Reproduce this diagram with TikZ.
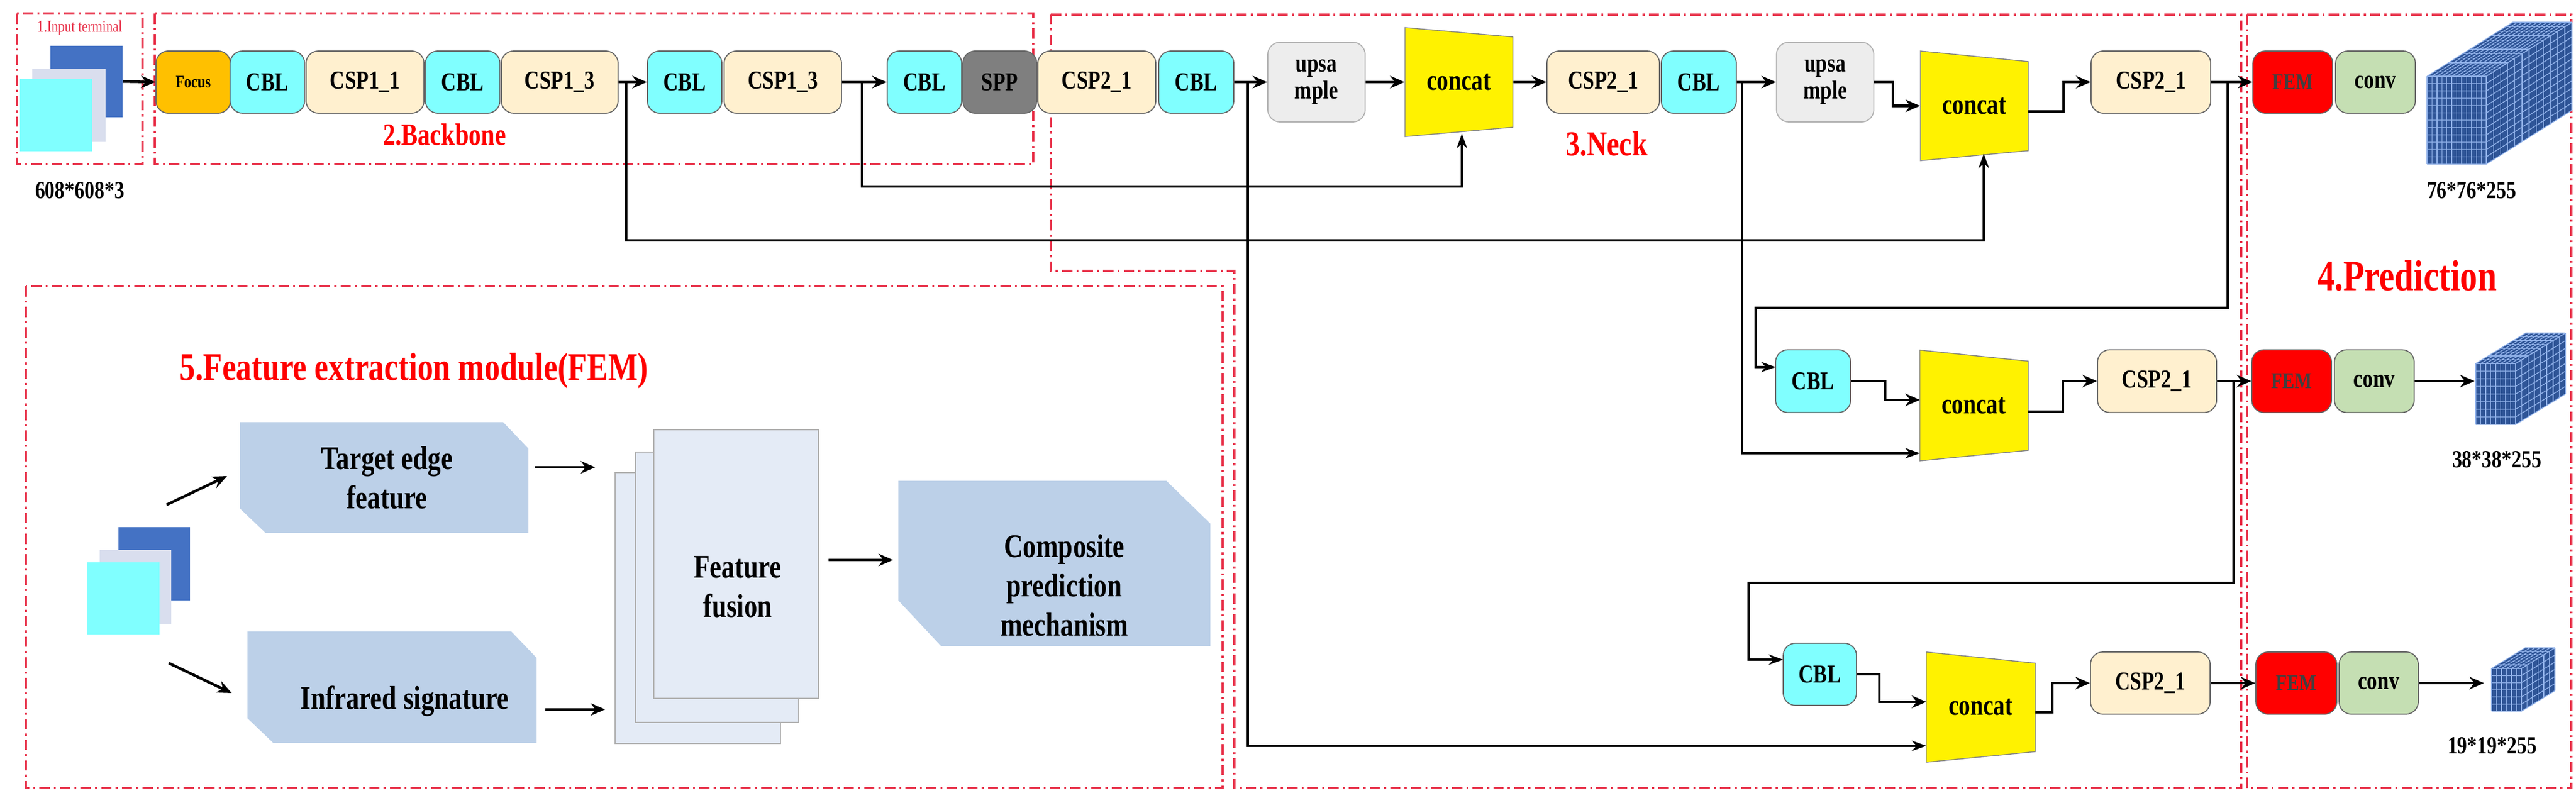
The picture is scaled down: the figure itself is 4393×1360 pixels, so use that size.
\documentclass[tikz,border=0pt]{standalone}
\usepackage{fontspec}
\setmainfont{Liberation Serif}[FakeStretch=0.8]
\usetikzlibrary{arrows.meta}
\definecolor{cy}{HTML}{80FFFF}
\definecolor{bg}{HTML}{FFF0CF}
\definecolor{org}{HTML}{FFC000}
\definecolor{sppg}{HTML}{7F7F7F}
\definecolor{upg}{HTML}{EDEDED}
\definecolor{cvg}{HTML}{C5DFB3}
\definecolor{stl}{HTML}{BCD0E8}
\definecolor{fus}{HTML}{E4EBF6}
\definecolor{dblue}{HTML}{4472C4}
\definecolor{lgray}{HTML}{D9DEEE}
\definecolor{dred}{HTML}{E8324A}
\definecolor{cubeb}{HTML}{2F5597}
\definecolor{cubel}{HTML}{8FB0E8}
\newcommand{\gridcube}[7]{% x0 y0 x1 y1 dx dy n
  \fill[cubeb] (#1,#2) -- ++(#5,#6) -- (#3+#5,#2+#6) -- (#3+#5,#4+#6) -- (#3,#4) -- (#1,#4) -- cycle;
  \foreach \i in {0,...,#7}{
    \draw[cubel,line width=0.4pt] ({#1+(#3-#1)*\i/#7},#2) -- ({#1+(#3-#1)*\i/#7},#4);
    \draw[cubel,line width=0.4pt] (#1,{#2+(#4-#2)*\i/#7}) -- (#3,{#2+(#4-#2)*\i/#7}) -- ++(#5,#6);
    \draw[cubel,line width=0.4pt] ({#1+(#3-#1)*\i/#7},#2) -- ++(#5,#6);
    \draw[cubel,line width=0.4pt] ({#3+#5*\i/#7},{#2+#6*\i/#7}) -- ++(0,#4-#2);
    \draw[cubel,line width=0.4pt] ({#1+#5*\i/#7},{#2+#6*\i/#7}) -- ++(#3-#1,0);
  }
}
\tikzset{
  blk/.style={draw=black!60,rounded corners=6pt,minimum height=1.06cm,inner sep=0pt,
     font=\fontsize{12.5}{13}\selectfont\bfseries,line width=0.5pt},
  cbl/.style={blk,fill=cy,minimum width=1.27cm},
  csp/.style={blk,fill=bg},
  up/.style={blk,fill=upg,draw=black!30,minimum height=1.36cm,minimum width=1.66cm,align=center},
  fem/.style={blk,fill=red,minimum width=1.36cm,font=\fontsize{11}{12}\selectfont\bfseries\color{black!75}},
  conv/.style={blk,fill=cvg,minimum width=1.36cm},
  cat/.style={inner sep=0pt,font=\fontsize{14}{15}\selectfont\bfseries},
  ar/.style={line width=1.3pt,-{Stealth[length=7pt,width=6pt]}},
  ln/.style={line width=1pt,-{Stealth[length=7pt,width=5pt]}},
  region/.style={dred,line width=0.9pt,dash pattern=on 5pt off 2pt on 1pt off 2pt},
  ttl/.style={text=red,font=\bfseries},
  dim/.style={font=\fontsize{12}{13}\selectfont\bfseries},
  fbox/.style={fill=stl,draw=none},
  ftxt/.style={align=center,font=\fontsize{16}{19}\selectfont\bfseries},
}
\begin{document}
\begin{tikzpicture}[x=0.01cm,y=-0.01cm]
\useasboundingbox (0,0) rectangle (4393,1360);
% regions
\draw[region] (29,23) rectangle (243,280);
\draw[region] (264,23) rectangle (1762,280);
\draw[region] (1792,25) -- (3822,25) -- (3822,1344) -- (2105,1344) -- (2105,462) -- (1792,462) -- cycle;
\draw[region] (3832,25) rectangle (4385,1344);
\draw[region] (44,488) rectangle (2085,1344);
\node[text=dred,font=\fontsize{8}{9}\selectfont] (t1) at (136,48) {1.Input terminal};
\node[ttl,font=\fontsize{15}{16}\selectfont\bfseries] (t2) at (758,230) {2.Backbone};
\node[ttl,font=\fontsize{17}{18}\selectfont\bfseries] (t3) at (2740,245) {3.Neck};
\node[ttl,font=\fontsize{21}{22}\selectfont\bfseries] (t4) at (4105,470) {4.Prediction};
\node[ttl,font=\fontsize{19}{20}\selectfont\bfseries] (t5) at (706,632) {5.Feature extraction module(FEM)};
% input images
\node[fill=dblue,minimum width=1.23cm,minimum height=1.22cm,inner sep=0] (img) at (147.5,139) {};
\node[fill=lgray,minimum width=1.25cm,minimum height=1.25cm,inner sep=0] (img2) at (117.5,179.5) {};
\node[fill=cy,minimum width=1.23cm,minimum height=1.23cm,inner sep=0] (img3) at (95.5,196.5) {};
\node[dim] (d0) at (136,325) {608*608*3};
% row 1
\node[blk,fill=org,minimum width=1.27cm,font=\fontsize{8.5}{9}\selectfont\bfseries] (focus) at (329.5,140) {Focus};
\node[cbl] (cbl1) at (456,140) {CBL};
\node[csp,minimum width=2.01cm] (csp11) at (622.5,140) {CSP1\_1};
\node[cbl] (cbl2) at (789,140) {CBL};
\node[csp,minimum width=1.99cm] (csp13a) at (954.5,140) {CSP1\_3};
\node[cbl] (cbl3) at (1167.5,140) {CBL};
\node[csp,minimum width=2cm] (csp13b) at (1335,140) {CSP1\_3};
\node[cbl] (cbl4) at (1576.5,140) {CBL};
\node[blk,fill=sppg,minimum width=1.26cm] (spp) at (1705,140) {SPP};
\node[csp,minimum width=2.01cm] (csp21a) at (1870.5,140) {CSP2\_1};
\node[cbl,minimum width=1.28cm] (cbl5) at (2040,140) {CBL};
\node[up] (up1) at (2245,140) {upsa\\mple};
\fill[yellow,draw=black!50,line width=0.4pt] (2396,47) -- (2580,63) -- (2580,217) -- (2396,233) -- cycle;
\node[cat,minimum width=1.84cm,minimum height=1.86cm] (cat1) at (2488,140) {concat};
\node[csp,minimum width=1.92cm] (csp21b) at (2734,140) {CSP2\_1};
\node[cbl,minimum width=1.28cm] (cbl6) at (2897,140) {CBL};
\node[up] (up2) at (3112.5,140) {upsa\\mple};
\fill[yellow,draw=black!50,line width=0.4pt] (3275,87) -- (3459,105) -- (3459,257) -- (3275,274) -- cycle;
\node[cat,minimum width=1.84cm,minimum height=1.87cm] (cat2) at (3367,180.5) {concat};
\node[csp,minimum width=2.04cm] (csp21c) at (3668,140) {CSP2\_1};
\node[fem] (fem1) at (3910,140) {FEM};
\node[conv] (conv1) at (4051,140) {conv};
\gridcube{4139}{130}{4240}{280}{146}{-92}{12}
\node[dim] (d1) at (4215,325) {76*76*255};
% row 2
\node[cbl,minimum width=1.28cm,minimum height=1.07cm] (cbl7) at (3092,650) {CBL};
\fill[yellow,draw=black!50,line width=0.4pt] (3274,597) -- (3459,616) -- (3459,768) -- (3274,786) -- cycle;
\node[cat,minimum width=1.85cm,minimum height=1.89cm] (cat3) at (3366,691.5) {concat};
\node[csp,minimum width=2.03cm,minimum height=1.07cm] (csp21d) at (3678.5,650) {CSP2\_1};
\node[fem,minimum height=1.07cm] (fem2) at (3908,650) {FEM};
\node[conv,minimum height=1.07cm] (conv2) at (4049,650) {conv};
\gridcube{4222}{620}{4290}{724}{85}{-52}{8}
\node (cube2) at (4256,672) {};
\node[dim] (d2) at (4258,784) {38*38*255};
% row 3
\node[cbl,minimum width=1.25cm] (cbl8) at (3103.5,1150) {CBL};
\fill[yellow,draw=black!50,line width=0.4pt] (3285,1112) -- (3471,1131) -- (3471,1282) -- (3285,1300) -- cycle;
\node[cat,minimum width=1.86cm,minimum height=1.88cm] (cat4) at (3378,1206) {concat};
\node[csp,minimum width=2.04cm] (csp21e) at (3667,1165) {CSP2\_1};
\node[fem,minimum width=1.38cm] (fem3) at (3916,1165) {FEM};
\node[conv,minimum width=1.35cm] (conv3) at (4056.5,1165) {conv};
\gridcube{4249}{1140}{4300}{1213}{57}{-35}{6}
\node (cube3) at (4275,1177) {};
\node[dim] (d3) at (4250,1272) {19*19*255};
% row 1 connectors
\draw[ar] (img.east) -- (focus.west);
\draw[ar] (csp13a.east) -- (cbl3.west);
\draw[ar] (csp13b.east) -- (cbl4.west);
\draw[ar] (cbl5.east) -- (up1.west);
\draw[ar] (up1.east) -- (cat1.west);
\draw[ar] (cat1.east) -- (csp21b.west);
\draw[ar] (cbl6.east) -- (up2.west);
\draw[ar] (up2.east) -- (3228,140) |- (cat2.west);
\draw[ar] (3459,190) -- (3519,190) |- (csp21c.west);
\draw[ar] (csp21c.east) -- (fem1.west);
% long connectors
\coordinate (s1) at (1068,140);
\coordinate (s2) at (1470,140);
\coordinate (s3) at (2128,140);
\coordinate (s4) at (2971,140);
\coordinate (s5) at (3799,140);
\coordinate (s6) at (3809,650);
\draw[ln] (s1) -- (1068,410) -- (3383,410) -- (3383,262);
\draw[ln] (s2) -- (1470,318) -- (2493,318) -- (2493,228);
\draw[ln] (s3) -- (2128,1272) -- (3285,1272);
\draw[ln] (s4) -- (2971,773) -- (3274,773);
\draw[ln] (s5) -- (3799,525) -- (2994,525) -- (2994,626) -- (3028,626);
\draw[ln] (s6) -- (3809,994) -- (2982,994) -- (2982,1125) -- (3041,1125);
% row 2/3 connectors
\draw[ar] (cbl7.east) -- (3215,650) |- (3274,682);
\draw[ar] (3459,702) -- (3518,702) |- (csp21d.west);
\draw[ar] (csp21d.east) -- (fem2.west);
\draw[ar] (conv2.east) -- (4220,650);
\draw[ar] (cbl8.east) -- (3205,1150) |- (3285,1197);
\draw[ar] (3471,1215) -- (3500,1215) |- (csp21e.west);
\draw[ar] (csp21e.east) -- (fem3.west);
\draw[ar] (conv3.east) -- (4236,1165);
% FEM module
\fill[dblue] (202,899) rectangle (324,1024);
\fill[lgray] (170,938) rectangle (292,1065);
\fill[cy] (148,959) rectangle (272,1082);
\coordinate (fin) at (284,861);
\coordinate (fin2) at (288,1131);
\fill[stl] (409,720) -- (858,720) -- (901,765) -- (901,909) -- (453,909) -- (409,867) -- cycle;
\node[ftxt] (te) at (660,815) {Target edge\\feature};
\fill[stl] (422,1077) -- (872,1077) -- (915,1122) -- (915,1267) -- (466,1267) -- (422,1225) -- cycle;
\node[ftxt] (ir) at (690,1196) {Infrared signature};
\draw[black!30,fill=fus] (1049,806) rectangle (1331,1268);
\draw[black!30,fill=fus] (1084,771) rectangle (1362,1232);
\draw[black!30,fill=fus] (1115,733) rectangle (1396,1191);
\node[ftxt] (ff) at (1258,1001) {Feature\\fusion};
\fill[stl] (1532,820) -- (1989,820) -- (2064,893) -- (2064,1102) -- (1605,1102) -- (1532,1024) -- cycle;
\node[ftxt] (cp) at (1815,998) {Composite\\prediction\\mechanism};
\draw[ar] (fin) -- (387,812);
\draw[ar] (fin2) -- (395,1182);
\draw[ar] (912,797) -- (1015,797);
\draw[ar] (930,1210) -- (1032,1210);
\draw[ar] (1413,955) -- (1523,955);
\end{tikzpicture}
\end{document}
